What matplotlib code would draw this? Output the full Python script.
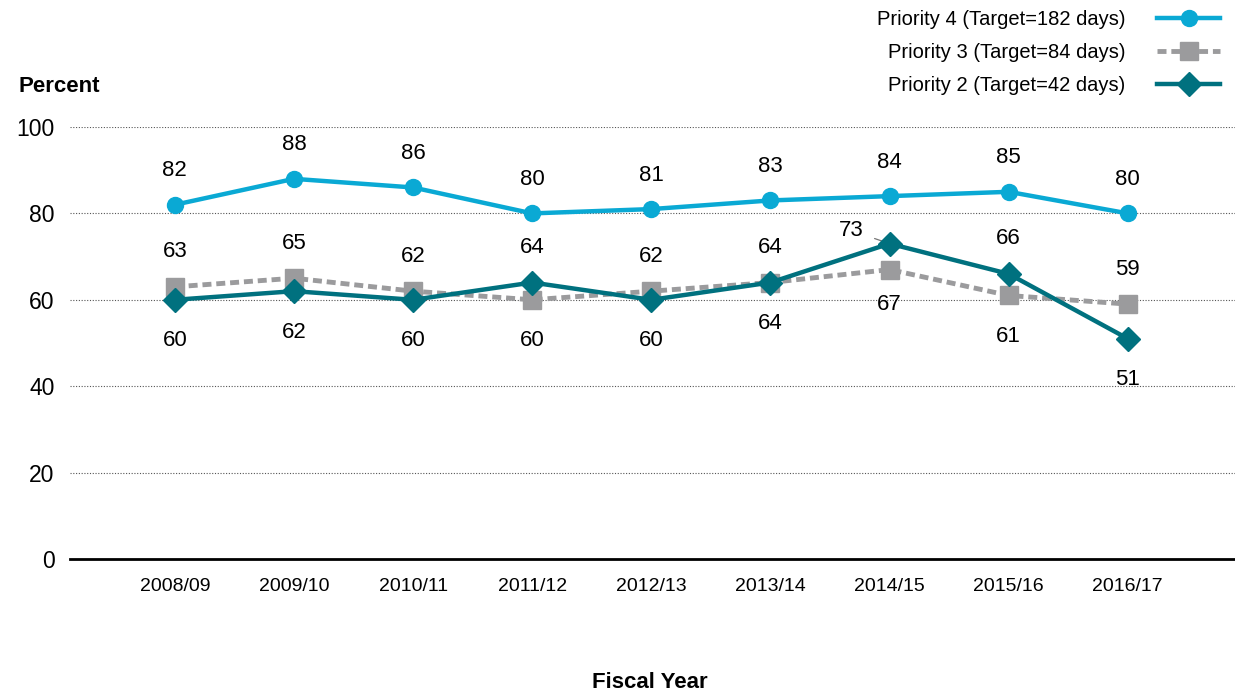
import matplotlib
matplotlib.use("Agg")
import matplotlib.pyplot as plt
from matplotlib.lines import Line2D

years = ["2008/09", "2009/10", "2010/11", "2011/12", "2012/13", "2013/14", "2014/15", "2015/16", "2016/17"]
p4 = [82, 88, 86, 80, 81, 83, 84, 85, 80]
p3 = [63, 65, 62, 60, 62, 64, 67, 61, 59]
p2 = [60, 62, 60, 64, 60, 64, 73, 66, 51]
yticks = [0, 20, 40, 60, 80, 100]
labels = ["Priority 4 (Target=182 days)", "Priority 3 (Target=84 days)", "Priority 2 (Target=42 days)"]

plt.rcParams['font.family'] = ['Liberation Sans', 'DejaVu Sans']

c4 = "#0AA9D4"
c3 = "#9B9B9D"
c2 = "#00717F"
dash3 = (0, (1.85, 1.0))

fig = plt.figure(figsize=(12.35, 6.96), dpi=100)
ax = fig.add_axes([70/1235, 1-559/696, 1-70/1235, (559-127)/696])
x = list(range(len(years)))

ax.plot(x, p3, color=c3, lw=3.5, ls=dash3, marker="s", ms=13, zorder=3, clip_on=False)
ax.plot(x, p2, color=c2, lw=3.2, marker="D", ms=12, zorder=4, clip_on=False)
ax.plot(x, p4, color=c4, lw=3.2, marker="o", ms=11.5, zorder=5, clip_on=False)

ax.set_xlim(-0.88, 8.9)
ax.set_ylim(0, 100)
ax.set_yticks(yticks)
ax.set_yticklabels([str(v) for v in yticks], fontsize=16.5)
ax.set_xticks(x)
ax.set_xticklabels(years, fontsize=14)
ax.tick_params(axis="both", length=0)
ax.tick_params(axis="y", pad=11)
ax.tick_params(axis="x", pad=14)
for s in ["top", "right", "left"]:
    ax.spines[s].set_visible(False)
ax.spines["bottom"].set_linewidth(2)
ax.spines["bottom"].set_color("black")
for v in yticks[1:]:
    ax.axhline(v, color="#555555", lw=0.8, ls=(0, (1, 1.5)), zorder=1)

fs = 16
for i in range(len(years)):
    ax.annotate(str(p4[i]), (i, p4[i]), xytext=(0, 34), textcoords="offset pixels",
                ha="center", va="center", fontsize=fs)
    hi = max(p2[i], p3[i])
    lo = min(p2[i], p3[i])
    if years[i] == "2014/15":
        ax.annotate(str(p2[i]), (i, p2[i]), xytext=(-38, 13), textcoords="offset pixels",
                    ha="center", va="center", fontsize=fs,
                    arrowprops=dict(arrowstyle="-", color="#777777", lw=0.9,
                                    shrinkA=6, shrinkB=4))
        ax.annotate(str(p3[i]), (i, p3[i]), xytext=(0, -35), textcoords="offset pixels",
                    ha="center", va="center", fontsize=fs)
        continue
    ax.annotate(str(hi), (i, hi), xytext=(0, 35), textcoords="offset pixels",
                ha="center", va="center", fontsize=fs)
    ax.annotate(str(lo), (i, lo), xytext=(0, -41), textcoords="offset pixels",
                ha="center", va="center", fontsize=fs)

fig.text(18/1235, 1-86/696, "Percent", fontsize=16, fontweight="bold", va="center", ha="left")
fig.text(650/1235, 1-683/696, "Fiscal Year", fontsize=16, fontweight="bold", va="center", ha="center")

handles = [
    Line2D([], [], color=c4, lw=3.2, marker="o", ms=11.5),
    Line2D([], [], color=c3, lw=3.5, ls=dash3, marker="s", ms=13),
    Line2D([], [], color=c2, lw=3.2, marker="D", ms=12),
]
leg = fig.legend(handles, labels, loc="upper right", bbox_to_anchor=(1238/1235, 1+8/696),
                 frameon=False, markerfirst=False, fontsize=14.5, handlelength=3.1,
                 labelspacing=0.7, handletextpad=1.6)
for t in leg.get_texts():
    t.set_ha("right")

fig.savefig("out.png", dpi=100)
